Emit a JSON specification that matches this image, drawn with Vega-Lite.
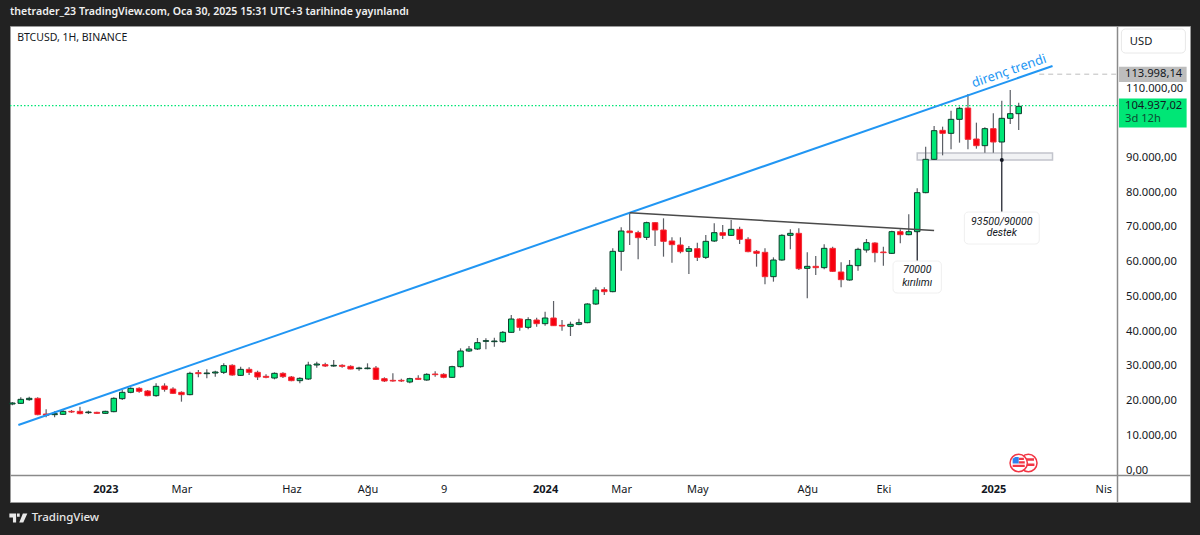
{
  "$schema": "https://vega.github.io/schema/vega-lite/v6.json",
  "autosize": {"type": "none"},
  "padding": {"left": 10, "top": 26, "right": 10, "bottom": 33},
  "width": 1180,
  "height": 476,
  "background": "#222222",
  "title": {"text": "thetrader_23 TradingView.com, Oca 30, 2025 15:31 UTC+3 tarihinde yayınlandı", "anchor": "start", "frame": "group", "color": "#f0f0f0", "font": "Noto Sans", "fontSize": 10.6, "fontWeight": 600, "offset": 8},
  "config": {"view": {"fill": "#ffffff", "stroke": "#9a9a9a"}, "font": "Noto Sans"},
  "datasets": {
    "candles": [
      {"d":"2022-10-17","o":19008,"h":19584,"l":18624,"c":19296},
      {"d":"2022-10-24","o":19200,"h":20928,"l":19008,"c":20352},
      {"d":"2022-10-31","o":20256,"h":21120,"l":19968,"c":20640},
      {"d":"2022-11-07","o":20640,"h":20928,"l":15744,"c":15936},
      {"d":"2022-11-14","o":16128,"h":17472,"l":15168,"c":15744},
      {"d":"2022-11-21","o":15936,"h":16896,"l":15168,"c":16224},
      {"d":"2022-11-28","o":16032,"h":17280,"l":15840,"c":16896},
      {"d":"2022-12-05","o":16896,"h":17280,"l":16416,"c":16704},
      {"d":"2022-12-12","o":16896,"h":18240,"l":16032,"c":16224},
      {"d":"2022-12-19","o":16512,"h":17088,"l":16128,"c":16704},
      {"d":"2022-12-26","o":16608,"h":16800,"l":16128,"c":16320},
      {"d":"2023-01-02","o":16320,"h":17088,"l":16128,"c":16896},
      {"d":"2023-01-09","o":16800,"h":20928,"l":16608,"c":20640},
      {"d":"2023-01-16","o":20544,"h":23040,"l":20160,"c":22368},
      {"d":"2023-01-23","o":22368,"h":23808,"l":22080,"c":23520},
      {"d":"2023-01-30","o":23520,"h":23808,"l":22272,"c":22656},
      {"d":"2023-02-06","o":22752,"h":23040,"l":21216,"c":21408},
      {"d":"2023-02-13","o":21408,"h":24960,"l":21120,"c":24096},
      {"d":"2023-02-20","o":24192,"h":24960,"l":22560,"c":23232},
      {"d":"2023-02-27","o":23328,"h":23808,"l":21888,"c":22080},
      {"d":"2023-03-06","o":22368,"h":22656,"l":19680,"c":21696},
      {"d":"2023-03-13","o":21696,"h":28320,"l":21504,"c":27840},
      {"d":"2023-03-20","o":28032,"h":28800,"l":26688,"c":27744},
      {"d":"2023-03-27","o":27744,"h":28992,"l":26400,"c":27936},
      {"d":"2023-04-03","o":27936,"h":28608,"l":26880,"c":28224},
      {"d":"2023-04-10","o":28128,"h":30720,"l":27648,"c":30048},
      {"d":"2023-04-17","o":30144,"h":30432,"l":27168,"c":27360},
      {"d":"2023-04-24","o":27264,"h":29760,"l":27072,"c":28992},
      {"d":"2023-05-01","o":28992,"h":29568,"l":27360,"c":28128},
      {"d":"2023-05-08","o":28128,"h":28608,"l":25920,"c":26784},
      {"d":"2023-05-15","o":26976,"h":27552,"l":26400,"c":26688},
      {"d":"2023-05-22","o":26496,"h":28128,"l":26112,"c":27840},
      {"d":"2023-05-29","o":27840,"h":28128,"l":26496,"c":26880},
      {"d":"2023-06-05","o":26784,"h":27072,"l":25536,"c":25728},
      {"d":"2023-06-12","o":25728,"h":26688,"l":24960,"c":26400},
      {"d":"2023-06-19","o":26208,"h":31200,"l":25920,"c":30240},
      {"d":"2023-06-26","o":30240,"h":31200,"l":29472,"c":30528},
      {"d":"2023-07-03","o":30336,"h":30912,"l":29664,"c":29952},
      {"d":"2023-07-10","o":29952,"h":31680,"l":29760,"c":30144},
      {"d":"2023-07-17","o":30144,"h":30432,"l":29472,"c":29856},
      {"d":"2023-07-24","o":29856,"h":30144,"l":29000,"c":29088},
      {"d":"2023-07-31","o":29184,"h":29760,"l":28608,"c":29376},
      {"d":"2023-08-07","o":29184,"h":30720,"l":28992,"c":29376},
      {"d":"2023-08-14","o":29376,"h":29952,"l":25920,"c":26112},
      {"d":"2023-08-21","o":26304,"h":26688,"l":25344,"c":25632},
      {"d":"2023-08-28","o":25824,"h":27840,"l":25440,"c":25632},
      {"d":"2023-09-04","o":25824,"h":26304,"l":25344,"c":25632},
      {"d":"2023-09-11","o":25344,"h":26592,"l":24960,"c":26304},
      {"d":"2023-09-18","o":26400,"h":27264,"l":25920,"c":26112},
      {"d":"2023-09-25","o":25920,"h":27840,"l":25728,"c":27552},
      {"d":"2023-10-02","o":27648,"h":28416,"l":26880,"c":27456},
      {"d":"2023-10-09","o":27552,"h":27840,"l":26400,"c":26688},
      {"d":"2023-10-16","o":26688,"h":30048,"l":26496,"c":29760},
      {"d":"2023-10-23","o":29760,"h":35040,"l":29472,"c":34272},
      {"d":"2023-10-30","o":34272,"h":35712,"l":33984,"c":34848},
      {"d":"2023-11-06","o":34848,"h":38016,"l":34560,"c":36672},
      {"d":"2023-11-13","o":37056,"h":37920,"l":34752,"c":37248},
      {"d":"2023-11-20","o":36960,"h":38112,"l":35520,"c":37152},
      {"d":"2023-11-27","o":36960,"h":40032,"l":36672,"c":39648},
      {"d":"2023-12-04","o":39648,"h":44640,"l":39552,"c":43488},
      {"d":"2023-12-11","o":43488,"h":43680,"l":40128,"c":41088},
      {"d":"2023-12-18","o":41088,"h":43968,"l":40512,"c":43296},
      {"d":"2023-12-25","o":43200,"h":43872,"l":41280,"c":42144},
      {"d":"2024-01-01","o":42144,"h":45600,"l":41568,"c":43776},
      {"d":"2024-01-08","o":43776,"h":48672,"l":41472,"c":41568},
      {"d":"2024-01-15","o":41664,"h":43200,"l":40128,"c":41472},
      {"d":"2024-01-22","o":41376,"h":42720,"l":38592,"c":41952},
      {"d":"2024-01-29","o":41952,"h":43584,"l":41664,"c":42432},
      {"d":"2024-02-05","o":42432,"h":48000,"l":42240,"c":47808},
      {"d":"2024-02-12","o":47808,"h":52608,"l":47520,"c":51840},
      {"d":"2024-02-19","o":51936,"h":52608,"l":50400,"c":51360},
      {"d":"2024-02-26","o":51360,"h":63840,"l":51168,"c":62976},
      {"d":"2024-03-04","o":62976,"h":69888,"l":57408,"c":68832},
      {"d":"2024-03-11","o":68832,"h":74112,"l":64800,"c":68352},
      {"d":"2024-03-18","o":68352,"h":68928,"l":60672,"c":66912},
      {"d":"2024-03-25","o":67008,"h":71520,"l":66240,"c":71232},
      {"d":"2024-04-01","o":71232,"h":71424,"l":64512,"c":69120},
      {"d":"2024-04-08","o":69120,"h":72480,"l":61440,"c":65856},
      {"d":"2024-04-15","o":65952,"h":67008,"l":59712,"c":64896},
      {"d":"2024-04-22","o":64800,"h":67008,"l":62400,"c":62880},
      {"d":"2024-04-29","o":62976,"h":64512,"l":56448,"c":63744},
      {"d":"2024-05-06","o":63744,"h":65472,"l":60192,"c":61248},
      {"d":"2024-05-13","o":61248,"h":67680,"l":60768,"c":65856},
      {"d":"2024-05-20","o":65952,"h":71040,"l":65664,"c":68352},
      {"d":"2024-05-27","o":68352,"h":70560,"l":66528,"c":67584},
      {"d":"2024-06-03","o":67584,"h":72000,"l":67392,"c":69312},
      {"d":"2024-06-10","o":69312,"h":70080,"l":65088,"c":66432},
      {"d":"2024-06-17","o":66432,"h":67008,"l":62688,"c":62880},
      {"d":"2024-06-24","o":62976,"h":63360,"l":58560,"c":62400},
      {"d":"2024-07-01","o":62688,"h":63840,"l":53472,"c":55680},
      {"d":"2024-07-08","o":55680,"h":61248,"l":54240,"c":60480},
      {"d":"2024-07-15","o":60480,"h":67872,"l":60288,"c":67584},
      {"d":"2024-07-22","o":67584,"h":69312,"l":63552,"c":68160},
      {"d":"2024-07-29","o":68160,"h":69600,"l":57600,"c":57984},
      {"d":"2024-08-05","o":58080,"h":62688,"l":49440,"c":58656},
      {"d":"2024-08-12","o":58656,"h":61632,"l":56160,"c":58272},
      {"d":"2024-08-19","o":58272,"h":64992,"l":57792,"c":63840},
      {"d":"2024-08-26","o":63840,"h":64320,"l":57024,"c":57216},
      {"d":"2024-09-02","o":57024,"h":59808,"l":52608,"c":54816},
      {"d":"2024-09-09","o":54720,"h":60480,"l":54528,"c":58944},
      {"d":"2024-09-16","o":58848,"h":64032,"l":57408,"c":63552},
      {"d":"2024-09-23","o":63360,"h":66528,"l":62592,"c":65472},
      {"d":"2024-09-30","o":65376,"h":65568,"l":59808,"c":62592},
      {"d":"2024-10-07","o":62784,"h":64320,"l":58848,"c":62592},
      {"d":"2024-10-14","o":62400,"h":68928,"l":62208,"c":68640},
      {"d":"2024-10-21","o":68640,"h":69312,"l":65280,"c":67776},
      {"d":"2024-10-28","o":67776,"h":73632,"l":67584,"c":68640},
      {"d":"2024-11-04","o":68640,"h":81120,"l":68448,"c":79872},
      {"d":"2024-11-11","o":79872,"h":93120,"l":79680,"c":89472},
      {"d":"2024-11-18","o":89472,"h":99072,"l":89280,"c":97728},
      {"d":"2024-11-25","o":97824,"h":98880,"l":90624,"c":96960},
      {"d":"2024-12-02","o":96960,"h":103488,"l":92352,"c":100992},
      {"d":"2024-12-09","o":100992,"h":104640,"l":94272,"c":104160},
      {"d":"2024-12-16","o":104256,"h":108288,"l":92352,"c":95232},
      {"d":"2024-12-23","o":95328,"h":100032,"l":92544,"c":93408},
      {"d":"2024-12-30","o":93408,"h":98688,"l":91392,"c":98304},
      {"d":"2025-01-06","o":98304,"h":102720,"l":91392,"c":94464},
      {"d":"2025-01-13","o":94464,"h":106368,"l":89472,"c":101280},
      {"d":"2025-01-20","o":101280,"h":109440,"l":99648,"c":102624},
      {"d":"2025-01-27","o":102624,"h":105792,"l":97920,"c":104736}
    ]
  },
  "encoding": {
    "x": {
      "field": "d",
      "type": "temporal",
      "title": null,
      "scale": {"domain": ["2022-10-15T02:00:00Z", "2025-06-17T19:00:00Z"], "nice": false, "padding": 0},
      "axis": {
        "orient": "bottom",
        "offset": -27,
        "grid": false,
        "ticks": false,
        "domainColor": "#8a8a8a",
        "domainWidth": 1.5,
        "labelPadding": 8,
        "labelFont": "Noto Sans",
        "labelFontSize": 11,
        "labelColor": "#131722",
        "labelOverlap": false,
        "labelFontWeight": {"condition": {"test": "utcmonth(datum.value)==0", "value": "bold"}, "value": "normal"},
        "values": ["2023-01-02", "2023-03-06", "2023-06-05", "2023-08-07", "2023-10-09", "2024-01-01", "2024-03-04", "2024-05-06", "2024-08-05", "2024-10-07", "2025-01-06", "2025-04-07"],
        "labelExpr": "{'2023-01-02':'2023','2023-03-06':'Mar','2023-06-05':'Haz','2023-08-07':'Ağu','2023-10-09':'9','2024-01-01':'2024','2024-03-04':'Mar','2024-05-06':'May','2024-08-05':'Ağu','2024-10-07':'Eki','2025-01-06':'2025','2025-04-07':'Nis'}[utcFormat(datum.value,'%Y-%m-%d')]"
      }
    },
    "y": {
      "field": "p",
      "type": "quantitative",
      "title": null,
      "scale": {"domain": [-9216, 127872], "nice": false, "zero": false},
      "axis": {
        "orient": "right",
        "offset": -73,
        "grid": false,
        "ticks": false,
        "domainColor": "#8a8a8a",
        "domainWidth": 1.5,
        "labelPadding": 8.5,
        "labelFont": "Noto Sans",
        "labelFontSize": 11.2,
        "labelColor": "#131722",
        "labelOverlap": false,
        "values": [0, 10000, 20000, 30000, 40000, 50000, 60000, 70000, 80000, 90000, 110000],
        "labelExpr": "replace(format(datum.value,',.0f'),',','.')+',00'"
      }
    }
  },
  "layer": [
    {
      "data": {"values": [{"d": "2022-10-15T02:00:00Z", "d2": "2025-04-18T10:00:00Z", "p": 104937}]},
      "mark": {"type": "rule", "stroke": "#00e676", "strokeDash": [1.5, 2], "strokeWidth": 1.3},
      "encoding": {"x2": {"field": "d2"}}
    },
    {
      "data": {"values": [{"d": "2025-02-13", "d2": "2025-04-18T10:00:00Z", "p": 113998}]},
      "mark": {"type": "rule", "stroke": "#bdbdbd", "strokeDash": [5, 4], "strokeWidth": 1},
      "encoding": {"x2": {"field": "d2"}}
    },
    {
      "data": {"values": [{"d": "2024-11-04", "d2": "2025-02-24", "p": 91296, "p2": 89280}]},
      "mark": {"type": "rect", "fill": "#e4e5ea", "fillOpacity": 0.5, "stroke": "#c2c4cc", "strokeWidth": 1.5},
      "encoding": {"x2": {"field": "d2"}, "y2": {"field": "p2"}}
    },
    {
      "data": {"name": "candles"},
      "mark": {"type": "rule", "color": "#5c5f66", "strokeWidth": 1.2},
      "encoding": {"y": {"field": "l", "type": "quantitative"}, "y2": {"field": "h"}}
    },
    {
      "data": {"name": "candles"},
      "mark": {"type": "bar", "size": 5.5, "strokeWidth": 1},
      "encoding": {
        "y": {"field": "o", "type": "quantitative"},
        "y2": {"field": "c"},
        "fill": {"condition": {"test": "datum.c>=datum.o", "value": "#00e676"}, "value": "#f7000f"},
        "stroke": {"condition": {"test": "datum.c>=datum.o", "value": "#0c3d2b"}, "value": "#f22c36"}
      }
    },
    {
      "data": {"values": [
        {"n": "direnc", "d": "2022-10-22", "p": 12960},
        {"n": "direnc", "d": "2025-02-24", "p": 116352}
      ]},
      "mark": {"type": "line", "color": "#2196f3", "strokeWidth": 2},
      "encoding": {"detail": {"field": "n"}}
    },
    {
      "data": {"values": [
        {"n": "kirilim", "d": "2024-03-11", "p": 74112},
        {"n": "kirilim", "d": "2024-11-18", "p": 68976}
      ]},
      "mark": {"type": "line", "color": "#4a4a4a", "strokeWidth": 1.5},
      "encoding": {"detail": {"field": "n"}}
    },
    {
      "data": {"values": [
        {"d": "2024-11-04", "p": 68544, "p2": 60192},
        {"d": "2025-01-13", "p": 89280, "p2": 74304}
      ]},
      "mark": {"type": "rule", "color": "#131722", "strokeWidth": 1.2},
      "encoding": {"y2": {"field": "p2"}}
    },
    {
      "data": {"values": [{"d": "2025-01-13", "p": 89280}]},
      "mark": {"type": "point", "filled": true, "color": "#131722", "size": 16, "opacity": 1}
    },
    {
      "data": {"values": [
        {"d": "2024-10-15", "d2": "2024-11-24", "p": 60192, "p2": 50976},
        {"d": "2024-12-13", "d2": "2025-02-13", "p": 74304, "p2": 65088}
      ]},
      "mark": {"type": "rect", "fill": "#000000", "fillOpacity": 0.12, "cornerRadius": 4, "yOffset": 2},
      "encoding": {"x2": {"field": "d2"}, "y2": {"field": "p2"}}
    },
    {
      "data": {"values": [
        {"d": "2024-10-15", "d2": "2024-11-24", "p": 60192, "p2": 50976},
        {"d": "2024-12-13", "d2": "2025-02-13", "p": 74304, "p2": 65088}
      ]},
      "mark": {"type": "rect", "fill": "#ffffff", "stroke": "#f0f0f0", "cornerRadius": 4},
      "encoding": {"x2": {"field": "d2"}, "y2": {"field": "p2"}}
    },
    {
      "data": {"values": [
        {"d": "2024-11-04", "p": 57600, "t": "70000"},
        {"d": "2024-11-04", "p": 53856, "t": "kırılımı"},
        {"d": "2025-01-13", "p": 71424, "t": "93500/90000"},
        {"d": "2025-01-13", "p": 68256, "t": "destek"}
      ]},
      "mark": {"type": "text", "font": "Roboto", "fontStyle": "italic", "fontSize": 10.5, "color": "#131722", "align": "center", "baseline": "middle"},
      "encoding": {"text": {"field": "t"}}
    },
    {
      "data": {"values": [{"d": "2025-01-19", "p": 114900, "t": "direnç trendi"}]},
      "mark": {"type": "text", "font": "Noto Sans", "fontSize": 13, "color": "#2196f3", "align": "center", "baseline": "middle", "angle": 341},
      "encoding": {"text": {"field": "t"}}
    },
    {
      "data": {"values": [{"d": "2022-10-21", "p": 124416, "t": "BTCUSD, 1H, BINANCE"}]},
      "mark": {"type": "text", "font": "Noto Sans", "fontSize": 10.5, "color": "#131722", "align": "left", "baseline": "middle"},
      "encoding": {"text": {"field": "t"}}
    },
    {
      "data": {"values": [{"d": "2025-02-04", "p": 2016}]},
      "mark": {"type": "point", "shape": "circle", "filled": true, "fill": "#ffffff", "fillOpacity": 1, "opacity": 1, "stroke": "#f23645", "strokeWidth": 1.5, "size": 300}
    },
    {
      "data": {"values": [{"d": "2025-02-04", "p": 2016}]},
      "mark": {"type": "point", "shape": "M-0.65 -0.55 H0.65 V-0.25 H-0.65 Z M-0.7 0.05 H0.7 V0.35 H-0.7 Z", "filled": true, "fill": "#f23645", "fillOpacity": 1, "opacity": 1, "strokeWidth": 0, "size": 300}
    },
    {
      "data": {"values": [{"d": "2025-01-27", "p": 2016}]},
      "mark": {"type": "point", "shape": "circle", "filled": true, "fill": "#ffffff", "fillOpacity": 1, "opacity": 1, "stroke": "#f23645", "strokeWidth": 1.5, "size": 300}
    },
    {
      "data": {"values": [{"d": "2025-01-27", "p": 2016}]},
      "mark": {"type": "point", "shape": "M0 -0.6 H0.6 V-0.35 H0 Z M0 -0.2 H0.7 V0.05 H0 Z M-0.7 0.2 H0.7 V0.45 H-0.7 Z", "filled": true, "fill": "#f23645", "fillOpacity": 1, "opacity": 1, "strokeWidth": 0, "size": 300}
    },
    {
      "data": {"values": [{"d": "2025-01-27", "p": 2016}]},
      "mark": {"type": "point", "shape": "M-0.7 0.05 V-0.5 L-0.4 -0.7 H0 V0.05 Z", "filled": true, "fill": "#2f80ed", "fillOpacity": 1, "opacity": 1, "strokeWidth": 0, "size": 300}
    },
    {
      "data": {"values": [{"d": "2025-04-22", "d2": "2025-06-14", "p": 127008, "p2": 120096}]},
      "mark": {"type": "rect", "fill": "#ffffff", "stroke": "#e8e8e8", "cornerRadius": 4},
      "encoding": {"x2": {"field": "d2"}, "y2": {"field": "p2"}}
    },
    {
      "data": {"values": [{"d": "2025-04-20", "d2": "2025-06-15", "p": 116150, "p2": 111744}]},
      "mark": {"type": "rect", "fill": "#bdbdbd"},
      "encoding": {"x2": {"field": "d2"}, "y2": {"field": "p2"}}
    },
    {
      "data": {"values": [{"d": "2025-04-20", "d2": "2025-06-15", "p": 106992, "p2": 98640}]},
      "mark": {"type": "rect", "fill": "#00e676"},
      "encoding": {"x2": {"field": "d2"}, "y2": {"field": "p2"}}
    },
    {
      "data": {"values": [
        {"d": "2025-04-29", "p": 123408, "t": "USD"},
        {"d": "2025-04-25", "p": 114192, "t": "113.998,14"},
        {"d": "2025-04-25", "p": 104832, "t": "104.937,02"}
      ]},
      "mark": {"type": "text", "font": "Noto Sans", "fontSize": 11.2, "color": "#131722", "align": "left", "baseline": "middle"},
      "encoding": {"text": {"field": "t"}}
    },
    {
      "data": {"values": [{"d": "2025-04-25", "p": 101088, "t": "3d 12h"}]},
      "mark": {"type": "text", "font": "Noto Sans", "fontSize": 11.2, "color": "#0d4a32", "align": "left", "baseline": "middle"},
      "encoding": {"text": {"field": "t"}}
    },
    {
      "data": {"values": [{"d": "2022-11-02", "p": -13824, "t": "TradingView"}]},
      "mark": {"type": "text", "font": "Noto Sans", "fontSize": 11.5, "fontWeight": 500, "color": "#e8e8e8", "align": "left", "baseline": "middle"},
      "encoding": {"text": {"field": "t"}}
    },
    {
      "data": {"values": [{"d": "2022-10-22", "p": -13824}]},
      "mark": {"type": "point", "shape": "M-1 -0.5 H-0.25 V0.5 H-0.6 V-0.05 H-1 Z M-0.15 -0.5 H0.15 V-0.15 H-0.15 Z M0.1 0.5 L0.5 -0.5 H1 L0.55 0.5 Z", "filled": true, "fill": "#e8e8e8", "fillOpacity": 1, "opacity": 1, "strokeWidth": 0, "size": 324}
    }
  ]
}
